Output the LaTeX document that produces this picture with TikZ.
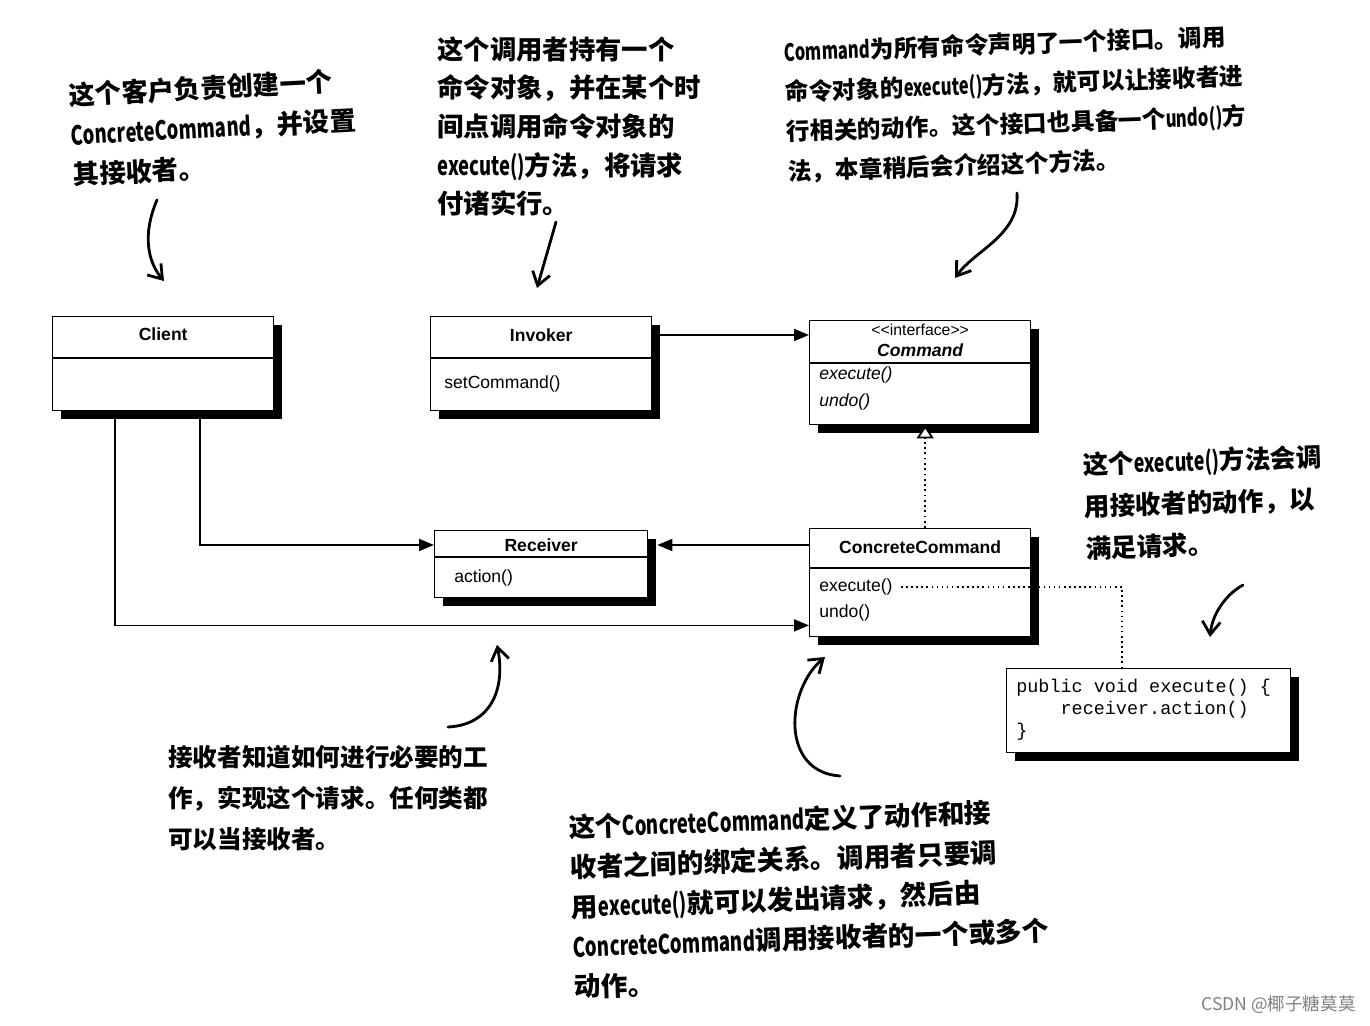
\documentclass[tikz,border=0pt]{standalone}
\usepackage{fontspec}
\usepackage{graphicx}
\setmainfont{Liberation Sans}
\newfontfamily\cjkhand{Noto Sans CJK SC}
\newfontfamily\codefont{Liberation Mono}
\newcommand\latw[1]{\scalebox{0.7}[1]{#1}}
\usepackage{tikz}
\usetikzlibrary{arrows.meta, positioning, calc, shadows}

\begin{document}
\begin{tikzpicture}[
    x=0.02cm, y=-0.02cm,
    cls/.style={rectangle, draw, line width=0.8pt, fill=white, inner sep=0pt, anchor=north west,
      drop shadow={shadow xshift=0.17cm, shadow yshift=-0.17cm, fill=black, opacity=1}},
    clsname/.style={font=\fontsize{10}{12}\selectfont\bfseries, inner sep=0pt},
    memb/.style={font=\fontsize{10}{12}\selectfont, inner sep=0pt, anchor=west},
    hand/.style={align=left, inner sep=0pt, anchor=north west},
    assoc/.style={-{Triangle[length=0.3cm, width=0.24cm]}, line width=1pt},
    realize/.style={-{Triangle[open, length=0.26cm, width=0.34cm, fill=white]}, line width=1pt, dotted},
    note/.style={line width=0.9pt, dotted},
    handarrow/.style={-{Straight Barb[length=0.26cm, width=0.36cm]}, line width=1.6pt, line cap=round}
  ]

  \fill[white] (0,0) rectangle (1370,1026);
  \useasboundingbox (0,0) rectangle (1370,1026);

  % classes
  \node[cls, minimum width=4.42cm, minimum height=1.88cm] (client) at (52,316) {};
  \node[cls, minimum width=4.42cm, minimum height=1.88cm] (invoker) at (430,316) {};
  \node[cls, minimum width=4.42cm, minimum height=2.08cm] (command) at (809,320) {};
  \node[cls, minimum width=4.26cm, minimum height=1.34cm] (receiver) at (434,530) {};
  \node[cls, minimum width=4.42cm, minimum height=2.16cm] (concrete) at (809,528) {};
  \node[cls, minimum width=5.68cm, minimum height=1.68cm] (code) at (1006,668) {};

  % compartments
  \draw[line width=0.8pt] ($(client.north west)+(0,42)$) -- ($(client.north east)+(0,42)$);
  \draw[line width=0.8pt] ($(invoker.north west)+(0,42)$) -- ($(invoker.north east)+(0,42)$);
  \draw[line width=0.8pt] ($(command.north west)+(0,43)$) -- ($(command.north east)+(0,43)$);
  \draw[line width=0.8pt] ($(receiver.north west)+(0,27)$) -- ($(receiver.north east)+(0,27)$);
  \draw[line width=0.8pt] ($(concrete.north west)+(0,40)$) -- ($(concrete.north east)+(0,40)$);

  \node[clsname] (clienthd) at ($(client.north)+(0,18)$) {Client};
  \node[clsname] (invokerhd) at ($(invoker.north)+(0,19)$) {Invoker};
  \node[memb] (invokerset) at ($(invoker.north west)+(14,68)$) {setCommand()};
  \node[inner sep=0pt, font=\fontsize{9}{10}\selectfont] (cmdstereo) at ($(command.north)+(0,10)$)
    {<\kern0pt<interface>\kern0pt>};
  \node[clsname, font=\fontsize{10}{12}\selectfont\bfseries\itshape] (cmdhd) at ($(command.north)+(0,30)$) {Command};
  \node[memb, font=\fontsize{10}{12}\selectfont\itshape] (cmdexec) at ($(command.north west)+(10,55)$) {execute()};
  \node[memb, font=\fontsize{10}{12}\selectfont\itshape] (cmdundo) at ($(command.north west)+(10,82)$) {undo()};
  \node[clsname] (recvhd) at ($(receiver.north)+(0,15)$) {Receiver};
  \node[memb] (recvact) at ($(receiver.north west)+(20,48)$) {action()};
  \node[clsname] (conchd) at ($(concrete.north)+(0,19)$) {ConcreteCommand};
  \node[memb] (concexec) at ($(concrete.north west)+(10,59)$) {execute()};
  \node[memb] (concundo) at ($(concrete.north west)+(10,85)$) {undo()};
  \node[hand, font=\codefont\fontsize{10.5}{12.5}\selectfont] (codetxt) at ($(code.north west)+(10,11)$)
    {public void execute() \{\\\phantom{publ}receiver.action()\\\}};

  % connectors
  \draw[assoc] (invoker.east |- invokerhd) -- (command.west |- invokerhd);
  \draw[realize] ([xshift=0.1cm]concrete.north) -- ([xshift=0.1cm]command.south);
  \draw[assoc] (concrete.west |- recvhd) -- ($(receiver.east |- recvhd)+(9,0)$);
  \draw[assoc] ($(client.south west)+(148,0)$) |- (receiver.west |- recvhd);
  \draw[assoc] ($(client.south west)+(63,0)$) |- ($(concrete.south west)+(0,-12)$);
  \draw[note] ($(concexec.east)+(8,0)$) -| ($(code.north west)+(116,0)$);

  % handwritten notes
  \node[hand, font=\cjkhand\bfseries\fontsize{15}{22.7}\selectfont, rotate=3] (clientnote) at (68,82)
    {这个客户负责创建一个\\\latw{ConcreteCommand}，并设置\\其接收者。};
  \node[hand, font=\cjkhand\bfseries\fontsize{15}{22}\selectfont] (invokernote) at (437,36)
    {这个调用者持有一个\\命令对象，并在某个时\\间点调用命令对象的\\\latw{execute()}方法，将请求\\付诸实行。};
  \node[hand, font=\cjkhand\bfseries\fontsize{13.5}{22.7}\selectfont, rotate=2] (commandnote) at (783,40)
    {\latw{Command}为所有命令声明了一个接口。调用\\命令对象的\latw{execute()}方法，就可以让接收者进\\行相关的动作。这个接口也具备一个\latw{undo()}方\\法，本章稍后会介绍这个方法。};
  \node[hand, font=\cjkhand\bfseries\fontsize{14.6}{23.8}\selectfont, rotate=2] (executenote) at (1082,452)
    {这个\latw{execute()}方法会调\\用接收者的动作，以\\满足请求。};
  \node[hand, font=\cjkhand\bfseries\fontsize{14}{23.2}\selectfont] (receivernote) at (168,745)
    {接收者知道如何进行必要的工\\作，实现这个请求。任何类都\\可以当接收者。};
  \node[hand, font=\cjkhand\bfseries\fontsize{15.2}{22.7}\selectfont, rotate=2] (concretenote) at (568,814)
    {这个\latw{ConcreteCommand}定义了动作和接\\收者之间的绑定关系。调用者只要调\\用\latw{execute()}就可以发出请求，然后由\\\latw{ConcreteCommand}调用接收者的一个或多个\\动作。};

  % pointers
  \draw[handarrow] (157,200) .. controls (142,235) and (148,262) .. (164,281);
  \draw[handarrow] (556,222) -- (537,288);
  \draw[handarrow] (1017,193) .. controls (1020,235) and (975,250) .. (955,278);
  \draw[handarrow] (448,727) .. controls (490,725) and (506,690) .. (497,645);
  \draw[handarrow] (840,776) .. controls (780,772) and (786,690) .. (825,657);
  \draw[handarrow] (1243,585) .. controls (1225,595) and (1212,615) .. (1210,637);

  \node[anchor=east, inner sep=0pt, text=gray, font=\cjkhand\fontsize{10}{12}\selectfont] (mark) at (1356,1005) {CSDN @椰子糖莫莫};
\end{tikzpicture}
\end{document}
